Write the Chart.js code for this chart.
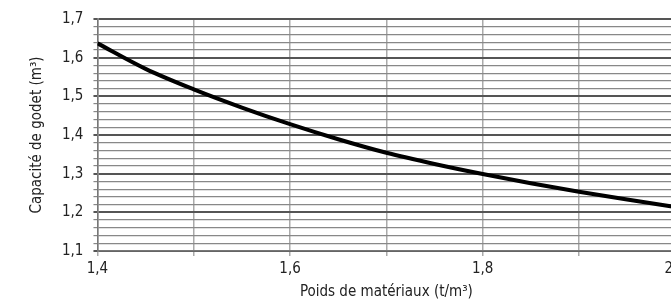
<!DOCTYPE html>
<html>
<head>
<meta charset="utf-8">
<script src="https://cdn.jsdelivr.net/npm/chart.js@4"></script>
<style>
  html, body { margin: 0; padding: 0; background: #fff; overflow: hidden; }
  #wrap { width: 690px; height: 301px; }
</style>
</head>
<body>
<div id="wrap"><canvas id="chart" width="690" height="301"></canvas></div>
<script>
// poids de matériaux (t/m3) -> capacité de godet (m3)
const poids = [1.40, 1.45, 1.50, 1.55, 1.60, 1.65, 1.70, 1.75, 1.80, 1.85, 1.90, 1.95, 2.00];
const capacite = [1.637, 1.571, 1.518, 1.471, 1.428, 1.389, 1.354, 1.325, 1.299, 1.275, 1.253, 1.233, 1.214];

const xLabels = [1.4, 1.6, 1.8, 2.0];
const yLabels = [1.1, 1.2, 1.3, 1.4, 1.5, 1.6, 1.7];

const fr = v => v.toFixed(1).replace('.', ',');
const near = (v, list) => list.some(t => Math.abs(v - t) < 1e-6);
const isMajorY = v => Math.abs(v * 10 - Math.round(v * 10)) < 1e-6;

const font = "'Liberation Sans Narrow', 'DejaVu Sans Condensed', sans-serif";

new Chart(document.getElementById('chart'), {
  type: 'line',
  data: {
    datasets: [{
      data: poids.map((x, i) => ({ x, y: capacite[i] })),
      borderColor: '#000',
      borderWidth: 4,
      pointRadius: 0,
      cubicInterpolationMode: 'monotone',
      fill: false
    }]
  },
  options: {
    responsive: false,
    animation: false,
    layout: { padding: { left: 28, top: 19, right: 0, bottom: 0 } },
    plugins: { legend: { display: false }, tooltip: { enabled: false } },
    scales: {
      x: {
        type: 'linear',
        min: 1.4,
        max: 2.0,
        ticks: {
          stepSize: 0.1,
          autoSkip: false,
          maxRotation: 0,
          padding: 4,
          color: '#222',
          font: { family: font, size: 15 },
          callback: v => near(v, xLabels) ? fr(v) : ''
        },
        grid: { color: '#aaa', lineWidth: 1.5, tickLength: 5 },
        border: { color: '#777', width: 1.5 },
        title: {
          display: true,
          text: 'Poids de matériaux (t/m³)',
          color: '#222',
          font: { family: font, size: 15 },
          padding: { top: 1, bottom: 0 }
        }
      },
      y: {
        min: 1.1,
        max: 1.7,
        ticks: {
          stepSize: 0.02,
          autoSkip: false,
          padding: 10,
          color: '#222',
          font: { family: font, size: 15 },
          callback: v => near(v, yLabels) ? fr(v) : ''
        },
        grid: {
          color: ctx => isMajorY(ctx.tick.value) ? '#555' : '#888',
          lineWidth: ctx => isMajorY(ctx.tick.value) ? 2 : 1.2,
          tickLength: 4
        },
        border: { color: '#777', width: 1.5 },
        title: {
          display: true,
          text: 'Capacité de godet (m³)',
          color: '#222',
          font: { family: font, size: 15 },
          padding: { top: 0, bottom: 6 }
        }
      }
    }
  }
});
</script>
</body>
</html>
